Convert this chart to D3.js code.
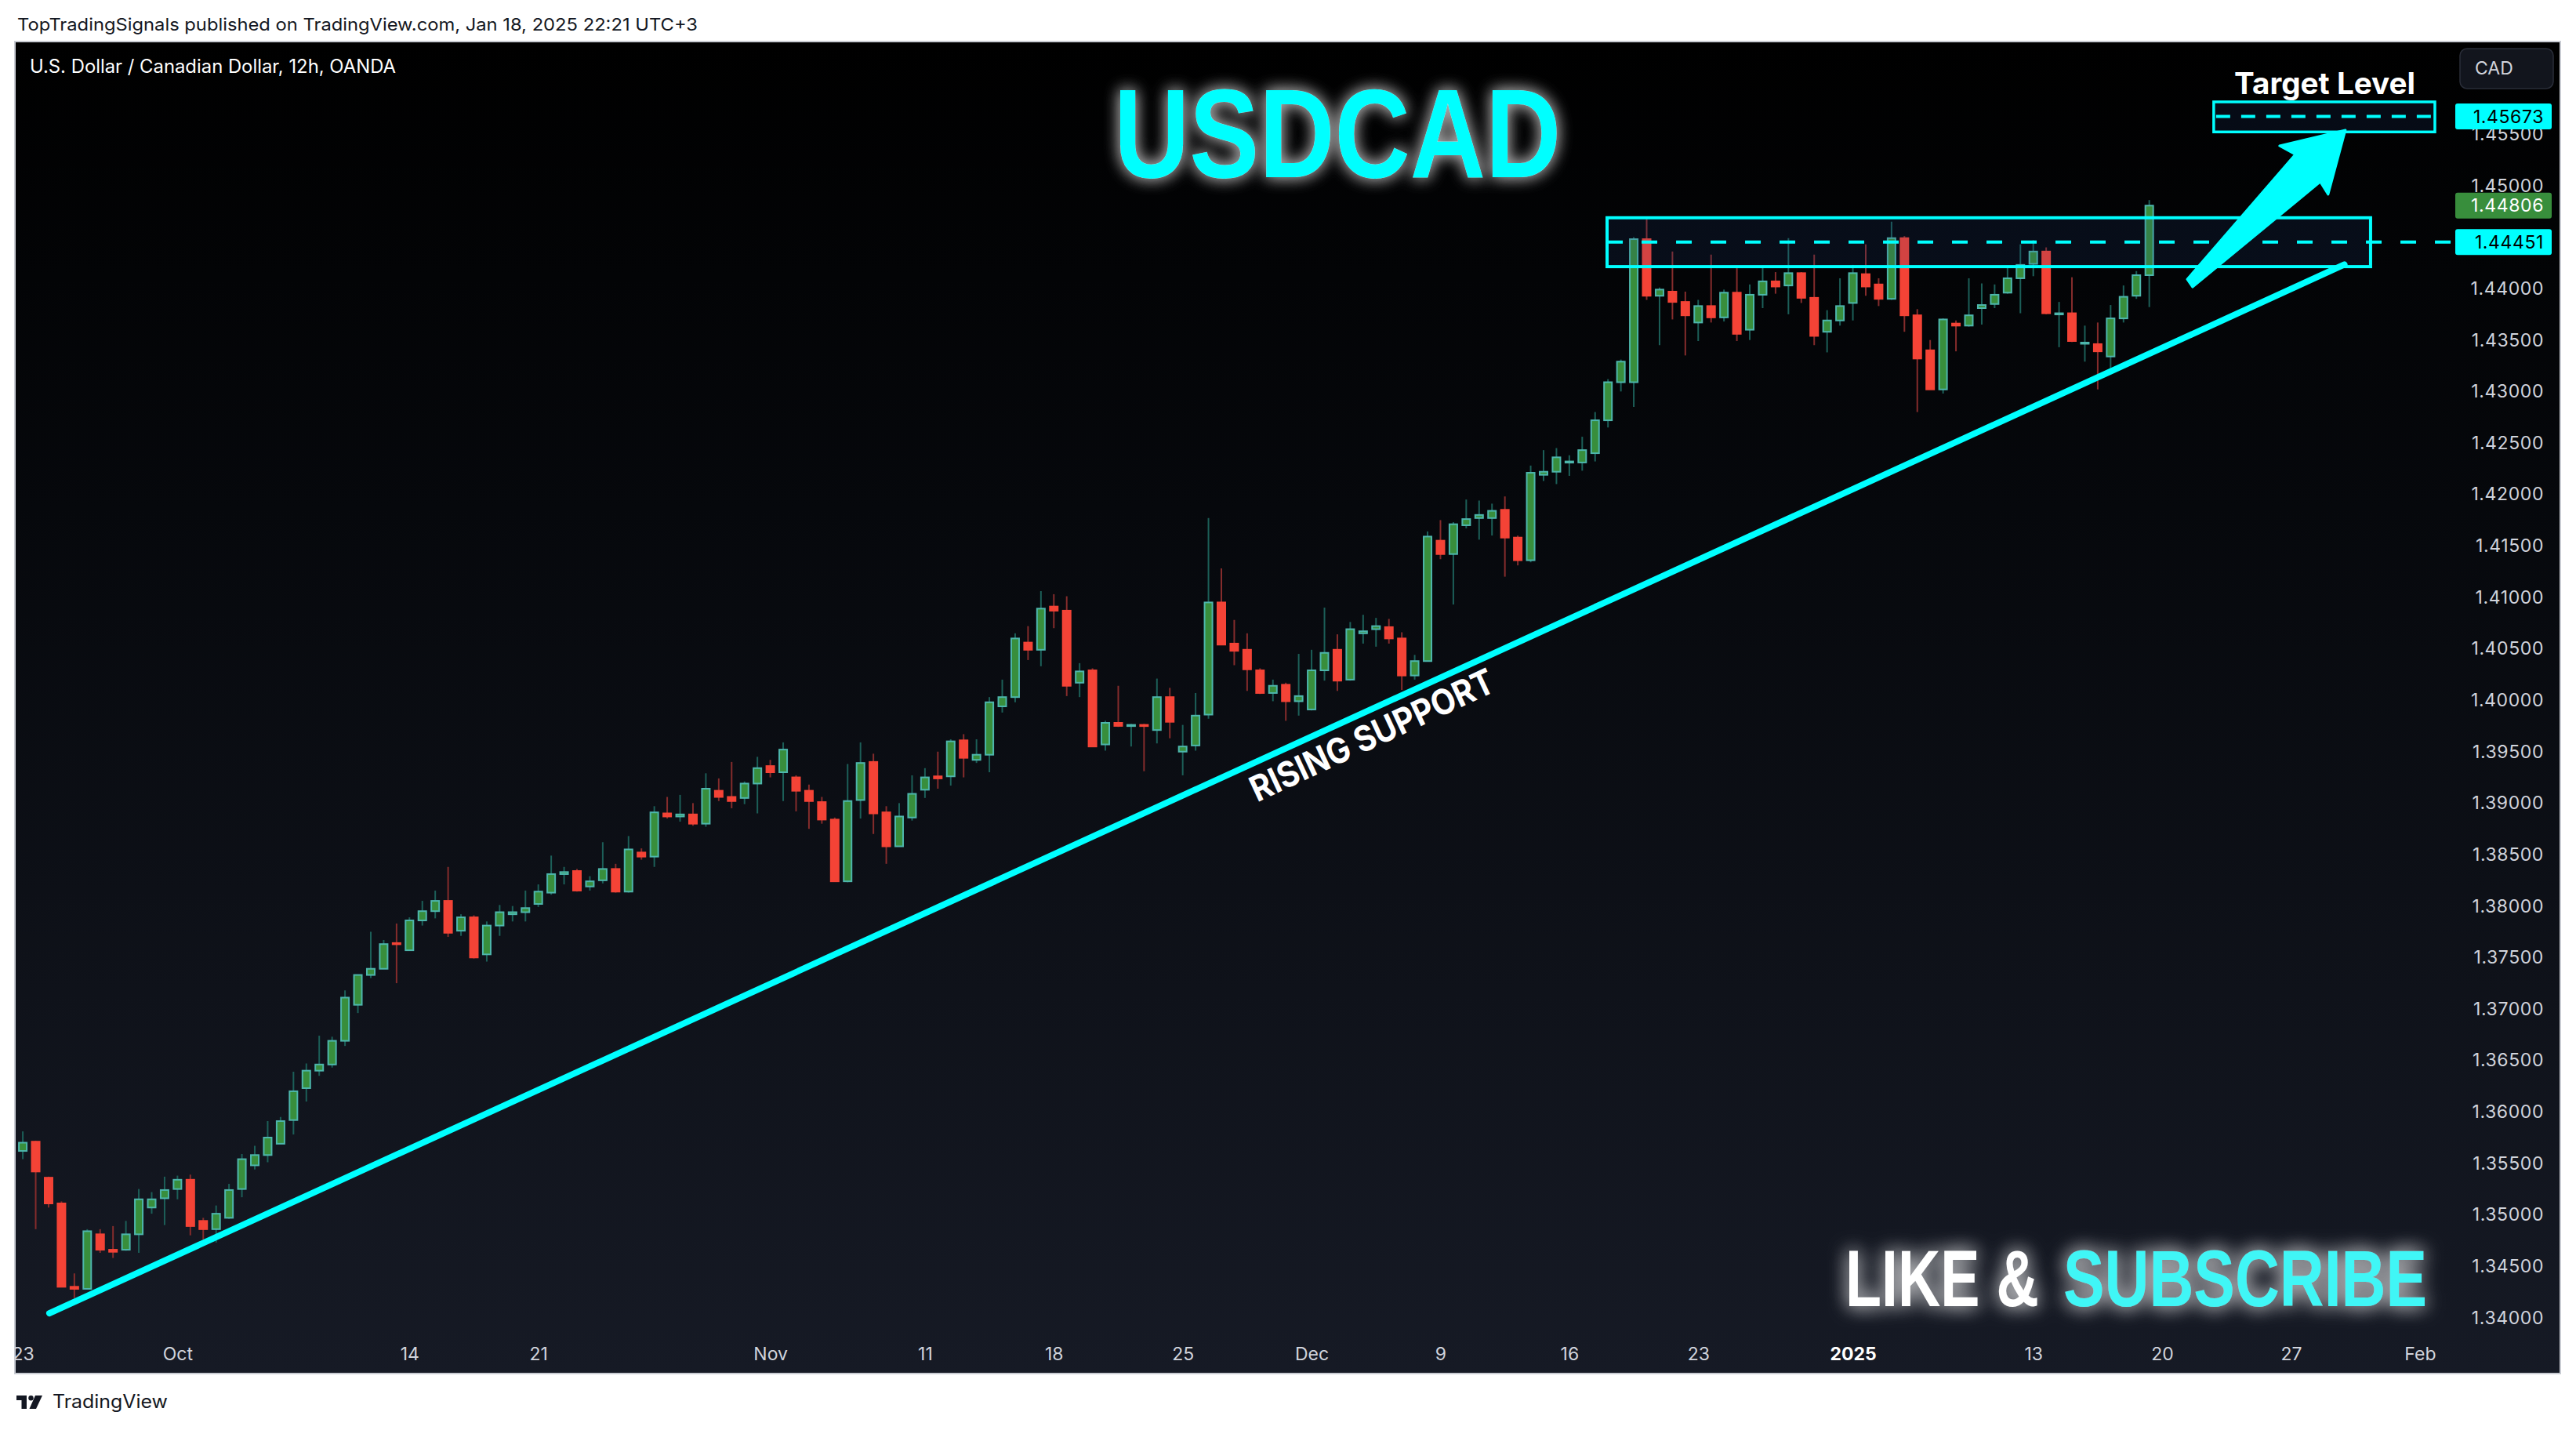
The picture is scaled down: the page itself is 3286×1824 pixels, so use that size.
<!DOCTYPE html>
<html><head><meta charset="utf-8">
<script src="https://cdn.jsdelivr.net/npm/d3@7"></script>
<style>html,body{margin:0;padding:0;background:#fff;overflow:hidden}svg{display:block}</style>
</head><body>
<svg id="c" width="3286" height="1824"></svg>
<script>
// ---- DATA (12h candles, bar index 0 = Sep 23 2024) ----
const opens = [
1.3562,1.3571,1.3536,1.3511,1.3430,1.3428,1.3481,1.3466,1.3466,1.3481,
1.3507,1.3516,1.3525,1.3534,1.3494,1.3486,1.3497,1.3525,1.3548,1.3558,
1.3569,1.3592,1.3623,1.3640,1.3646,1.3669,1.3704,1.3733,1.3739,1.3764,
1.3757,1.3786,1.3795,1.3805,1.3776,1.3789,1.3753,1.3781,1.3792,1.3794,
1.3802,1.3813,1.3831,1.3834,1.3819,1.3825,1.3836,1.3814,1.3852,1.3848,
1.3890,1.3887,1.3889,1.3880,1.3912,1.3906,1.3905,1.3919,1.3936,1.3930,
1.3925,1.3912,1.3901,1.3884,1.3824,1.3903,1.3940,1.3891,1.3858,1.3886,
1.3913,1.3926,1.3926,1.3961,1.3942,1.3947,1.3994,1.4003,1.4056,1.4049,
1.4091,1.4087,1.4017,1.4029,1.3957,1.3978,1.3975,1.3976,1.3971,1.4003,
1.3950,1.3956,1.3986,1.4095,1.4055,1.4049,1.4029,1.4007,1.4015,1.3999,
1.3991,1.4029,1.4049,1.4020,1.4065,1.4069,1.4071,1.4060,1.4024,1.4038,
1.4155,1.4142,1.4170,1.4177,1.4177,1.4185,1.4158,1.4136,1.4219,1.4222,
1.4231,1.4231,1.4240,1.4272,1.4309,1.4309,1.4448,1.4393,1.4397,1.4387,
1.4367,1.4383,1.4372,1.4396,1.4360,1.4394,1.4407,1.4403,1.4415,1.4391,
1.4358,1.4369,1.4386,1.4414,1.4404,1.4390,1.4449,1.4374,1.4340,1.4302,
1.4366,1.4364,1.4381,1.4385,1.4396,1.4410,1.4424,1.4436,1.4375,1.4376,
1.4347,1.4346,1.4334,1.4371,1.4393,1.4413];
const highs = [
1.3581,1.3572,1.3537,1.3513,1.3443,1.3486,1.3486,1.3489,1.3494,1.3525,
1.3522,1.3537,1.3538,1.3539,1.3497,1.3509,1.3530,1.3559,1.3567,1.3591,
1.3595,1.3639,1.3647,1.3674,1.3673,1.3718,1.3733,1.3775,1.3767,1.3783,
1.3789,1.3805,1.3815,1.3838,1.3792,1.3791,1.3785,1.3801,1.3800,1.3815,
1.3821,1.3849,1.3838,1.3836,1.3829,1.3862,1.3841,1.3868,1.3856,1.3897,
1.3906,1.3908,1.3900,1.3929,1.3924,1.3940,1.3921,1.3945,1.3942,1.3959,
1.3927,1.3918,1.3906,1.3886,1.3938,1.3959,1.3948,1.3897,1.3900,1.3927,
1.3934,1.3950,1.3962,1.3967,1.3962,1.4003,1.4020,1.4065,1.4072,1.4106,
1.4103,1.4101,1.4036,1.4031,1.3980,1.4014,1.3977,1.3977,1.4021,1.4012,
1.3976,1.4007,1.4177,1.4128,1.4078,1.4065,1.4031,1.4020,1.4017,1.4045,
1.4049,1.4090,1.4064,1.4076,1.4083,1.4080,1.4079,1.4066,1.4044,1.4164,
1.4175,1.4173,1.4195,1.4194,1.4191,1.4198,1.4160,1.4228,1.4243,1.4245,
1.4238,1.4256,1.4280,1.4312,1.4331,1.4450,1.4468,1.4401,1.4436,1.4397,
1.4389,1.4433,1.4399,1.4420,1.4404,1.4420,1.4416,1.4449,1.4416,1.4433,
1.4379,1.4410,1.4423,1.4443,1.4410,1.4465,1.4451,1.4380,1.4350,1.4371,
1.4369,1.4410,1.4405,1.4404,1.4422,1.4443,1.4447,1.4440,1.4387,1.4411,
1.4364,1.4367,1.4384,1.4403,1.4417,1.4486];
const lows = [
1.3554,1.3486,1.3507,1.3430,1.3419,1.3428,1.3463,1.3458,1.3465,1.3463,
1.3501,1.3490,1.3515,1.3480,1.3476,1.3473,1.3496,1.3517,1.3544,1.3551,
1.3569,1.3578,1.3610,1.3635,1.3643,1.3664,1.3696,1.3730,1.3739,1.3725,
1.3757,1.3781,1.3788,1.3770,1.3771,1.3749,1.3746,1.3771,1.3785,1.3785,
1.3799,1.3811,1.3821,1.3814,1.3815,1.3822,1.3813,1.3813,1.3845,1.3838,
1.3885,1.3882,1.3878,1.3877,1.3902,1.3895,1.3899,1.3890,1.3925,1.3902,
1.3892,1.3875,1.3880,1.3824,1.3823,1.3885,1.3870,1.3841,1.3858,1.3883,
1.3905,1.3914,1.3917,1.3925,1.3939,1.3930,1.3988,1.3998,1.4039,1.4033,
1.4070,1.4004,1.4003,1.3955,1.3951,1.3974,1.3955,1.3931,1.3958,1.3963,
1.3927,1.3951,1.3982,1.4054,1.4034,1.4009,1.4006,1.3999,1.3980,1.3985,
1.3990,1.4019,1.4009,1.4019,1.4055,1.4052,1.4055,1.4010,1.4020,1.4038,
1.4137,1.4093,1.4167,1.4156,1.4160,1.4120,1.4131,1.4134,1.4213,1.4210,
1.4218,1.4223,1.4232,1.4265,1.4300,1.4285,1.4389,1.4345,1.4370,1.4335,
1.4349,1.4367,1.4368,1.4349,1.4350,1.4381,1.4395,1.4375,1.4386,1.4345,
1.4338,1.4364,1.4369,1.4393,1.4383,1.4389,1.4358,1.4280,1.4302,1.4298,
1.4339,1.4363,1.4365,1.4381,1.4395,1.4376,1.4412,1.4375,1.4343,1.4348,
1.4329,1.4302,1.4322,1.4367,1.4390,1.4382];
const closes = [
1.3570,1.3542,1.3511,1.3430,1.3428,1.3484,1.3466,1.3464,1.3481,1.3515,
1.3515,1.3524,1.3534,1.3489,1.3486,1.3501,1.3524,1.3554,1.3558,1.3575,
1.3591,1.3620,1.3640,1.3646,1.3669,1.3711,1.3733,1.3739,1.3763,1.3763,
1.3786,1.3795,1.3805,1.3774,1.3789,1.3750,1.3781,1.3794,1.3794,1.3798,
1.3814,1.3831,1.3833,1.3815,1.3824,1.3836,1.3814,1.3855,1.3848,1.3891,
1.3887,1.3889,1.3880,1.3914,1.3906,1.3902,1.3919,1.3934,1.3930,1.3952,
1.3912,1.3902,1.3884,1.3824,1.3902,1.3939,1.3890,1.3858,1.3887,1.3909,
1.3925,1.3924,1.3960,1.3944,1.3947,1.3998,1.4003,1.4060,1.4049,1.4089,
1.4087,1.4014,1.4028,1.3955,1.3978,1.3975,1.3976,1.3975,1.4003,1.3979,
1.3955,1.3985,1.4095,1.4054,1.4048,1.4030,1.4007,1.4014,1.3999,1.4004,
1.4029,1.4046,1.4019,1.4069,1.4067,1.4072,1.4060,1.4024,1.4038,1.4159,
1.4142,1.4171,1.4176,1.4180,1.4184,1.4158,1.4136,1.4221,1.4222,1.4236,
1.4232,1.4243,1.4272,1.4309,1.4329,1.4448,1.4393,1.4399,1.4387,1.4374,
1.4383,1.4372,1.4396,1.4356,1.4394,1.4407,1.4402,1.4415,1.4391,1.4354,
1.4369,1.4383,1.4415,1.4402,1.4390,1.4449,1.4374,1.4332,1.4302,1.4370,
1.4364,1.4374,1.4384,1.4394,1.4410,1.4423,1.4436,1.4376,1.4376,1.4349,
1.43475,1.4339,1.4371,1.4392,1.4413,1.44806];

// 1.44500 is hidden behind the 1.44451 tag in the reference, so it is not listed
const priceTicks = [1.340,1.345,1.350,1.355,1.360,1.365,1.370,1.375,1.380,1.385,1.390,1.395,
  1.400,1.405,1.410,1.415,1.420,1.425,1.430,1.435,1.440,1.450,1.455];
const dateTickIdx    = [0, 12, 30, 40, 58, 70, 80, 90, 100, 110, 120, 130, 142, 156, 166, 176, 186];
const dateTickLabels = ["23","Oct","14","21","Nov","11","18","25","Dec","9","16","23","2025","13","20","27","Feb"];

// drawings, in (bar index, price)
const supportLine = [[2.06, 1.34042], [180.14, 1.44233]];
const resistanceZone = [122.93, 182.17, 1.44213, 1.44688];
const resistanceLevel = 1.44451;
const targetZone = [170.0, 187.16, 1.45522, 1.45814];
const targetLevel = 1.45673;
const lastClose = 1.44806;
const arrowPts = [[167.94,1.44091],[176.33,1.45303],[175.11,1.45387],[180.22,1.45540],[178.88,1.44915],[178.27,1.45037],[168.36,1.44015]];

// ---- LAYOUT ----
const svg = d3.select("#c");
const F = {x0:19, x1:3266, y0:53, y1:1752};
const plotR = 3130;
const x = d3.scaleLinear().domain([0,186]).range([29.1, 3086.9]);
const y = d3.scaleLinear().domain([1.34,1.45]).range([1680.7, 236.8]);

const defs = svg.append("defs");
const bg = defs.append("linearGradient").attr("id","bg").attr("gradientUnits","userSpaceOnUse")
  .attr("x1",0).attr("y1",F.y0).attr("x2",0).attr("y2",F.y1);
bg.append("stop").attr("offset",0).attr("stop-color","#000000");
bg.append("stop").attr("offset",0.35).attr("stop-color","#06080c");
bg.append("stop").attr("offset",1).attr("stop-color","#161a25");
defs.append("clipPath").attr("id","frame").append("rect").attr("x",F.x0).attr("y",F.y0).attr("width",F.x1-F.x0).attr("height",F.y1-F.y0);
defs.append("clipPath").attr("id","plot").append("rect").attr("x",F.x0).attr("y",F.y0).attr("width",plotR-F.x0).attr("height",F.y1-F.y0);
function glow(id, sd, op){
  const f = defs.append("filter").attr("id",id).attr("x","-20%").attr("y","-50%").attr("width","140%").attr("height","200%");
  f.append("feGaussianBlur").attr("in","SourceAlpha").attr("stdDeviation",sd).attr("result","b");
  f.append("feFlood").attr("flood-color","#ffffff").attr("flood-opacity",op);
  f.append("feComposite").attr("in2","b").attr("operator","in").attr("result","g");
  const m = f.append("feMerge");
  m.append("feMergeNode").attr("in","g");
  m.append("feMergeNode").attr("in","g");
  m.append("feMergeNode").attr("in","SourceGraphic");
}
glow("glowT", 10, 0.5);
glow("glowL", 12, 0.58);

// page header
svg.append("text").attr("x",22).attr("y",39).attr("font-family","Inter, 'Liberation Sans', sans-serif")
  .attr("font-size",22).attr("fill","#131722").attr("textLength",868).attr("lengthAdjust","spacingAndGlyphs")
  .text("TopTradingSignals published on TradingView.com, Jan 18, 2025 22:21 UTC+3");

// frame
svg.append("rect").attr("x",F.x0).attr("y",F.y0).attr("width",F.x1-F.x0).attr("height",F.y1-F.y0)
  .attr("fill","url(#bg)").attr("stroke","#c9ccd3").attr("stroke-width",2);

const chart = svg.append("g").attr("clip-path","url(#frame)");
const plot = chart.append("g").attr("clip-path","url(#plot)");

// candles
const candles = d3.range(opens.length).map(i => ({i, o:opens[i], h:highs[i], l:lows[i], c:closes[i], up: closes[i] >= opens[i]}));
const cg = plot.append("g");
cg.selectAll("line.w").data(candles).join("line")
  .attr("x1", d=>x(d.i)).attr("x2", d=>x(d.i))
  .attr("y1", d=>y(d.h)).attr("y2", d=>y(d.l))
  .attr("stroke", d=>d.up ? "#1c5f58" : "#852c2c").attr("stroke-width",2);
cg.selectAll("rect.b").data(candles).join("rect")
  .attr("x", d=>x(d.i)-5).attr("width",10)
  .attr("y", d=>Math.min(y(d.o),y(d.c)))
  .attr("height", d=>Math.max(1.5, Math.abs(y(d.o)-y(d.c))))
  .attr("fill", d=>d.up ? "#388e3c" : "#f44336")
  .attr("stroke", d=>d.up ? "#4db6ac" : "#f44336").attr("stroke-width",2);

// zones
function zone(z, sw){
  plot.append("rect").attr("x",x(z[0])).attr("y",y(z[3])).attr("width",x(z[1])-x(z[0])).attr("height",y(z[2])-y(z[3]))
    .attr("fill","rgba(40,70,130,0.16)").attr("stroke","#00ffff").attr("stroke-width",sw);
}
zone(resistanceZone, 4);
plot.append("line").attr("x1",x(resistanceZone[0])).attr("x2",plotR).attr("y1",y(resistanceLevel)).attr("y2",y(resistanceLevel))
  .attr("stroke","#00ffff").attr("stroke-width",4).attr("stroke-dasharray","20 24");
zone(targetZone, 3.5);
plot.append("line").attr("x1",x(targetZone[0])+3).attr("x2",x(targetZone[1])+2).attr("y1",y(targetLevel)).attr("y2",y(targetLevel))
  .attr("stroke","#00ffff").attr("stroke-width",4).attr("stroke-dasharray","18 14");

// support line
plot.append("line").attr("x1",x(supportLine[0][0])).attr("y1",y(supportLine[0][1]))
  .attr("x2",x(supportLine[1][0])).attr("y2",y(supportLine[1][1]))
  .attr("stroke","#00ffff").attr("stroke-width",8).attr("stroke-linecap","round");

// arrow
plot.append("path").attr("d", d3.line().x(d=>x(d[0])).y(d=>y(d[1]))(arrowPts)+"Z")
  .attr("fill","#00ffff").attr("stroke","#00ffff").attr("stroke-width",3).attr("stroke-linejoin","round");

// rising support label
plot.append("text").attr("transform","translate(1757,952) rotate(-25)")
  .attr("text-anchor","middle").attr("font-family","Inter, 'Liberation Sans', sans-serif").attr("font-weight",700)
  .attr("font-size",45).attr("fill","#ffffff").attr("textLength",338).attr("lengthAdjust","spacingAndGlyphs")
  .text("RISING SUPPORT");

// Target Level
plot.append("text").attr("x",2850).attr("y",120).attr("font-family","Inter, 'Liberation Sans', sans-serif")
  .attr("font-weight",700).attr("font-size",38).attr("fill","#ffffff").attr("textLength",231).attr("lengthAdjust","spacingAndGlyphs")
  .text("Target Level");

// title (narrow glyphs: smaller font stretched vertically)
chart.append("g").attr("filter","url(#glowT)")
  .append("text").attr("transform","translate(1421,226) scale(1,1.205)")
  .attr("font-family","'Liberation Sans', Arial, sans-serif").attr("font-weight",700).attr("font-size",133.3)
  .attr("fill","#00ffff").text("USDCAD");

// like & subscribe
const ls = chart.append("g").attr("filter","url(#glowL)");
ls.append("text").attr("transform","translate(2354,1666) scale(1,1.354)")
  .attr("font-family","'Liberation Sans', Arial, sans-serif").attr("font-weight",700).attr("font-size",75.3)
  .attr("fill","#ffffff").text("LIKE &");
ls.append("text").attr("transform","translate(2632,1666) scale(1,1.295)")
  .attr("font-family","'Liberation Sans', Arial, sans-serif").attr("font-weight",700).attr("font-size",78.8)
  .attr("fill","#3ff6f6").text("SUBSCRIBE");

// symbol legend
chart.append("text").attr("x",38).attr("y",93).attr("font-family","Inter, 'Liberation Sans', sans-serif")
  .attr("font-size",24).attr("fill","#ffffff").attr("textLength",467).attr("lengthAdjust","spacingAndGlyphs")
  .text("U.S. Dollar / Canadian Dollar, 12h, OANDA");

// price axis
const yAxis = d3.axisRight(y).tickValues(priceTicks).tickFormat(d3.format(".5f")).tickSize(0).tickPadding(0);
const ya = chart.append("g").attr("transform","translate(3245,0)").call(yAxis);
ya.select(".domain").remove();
ya.selectAll("text").attr("text-anchor","end").attr("x",0).attr("fill","#d1d4dc")
  .attr("font-family","Inter, 'Liberation Sans', sans-serif").attr("font-size",23).attr("letter-spacing",0.6);

// time axis
const xAxis = d3.axisBottom(x).tickValues(dateTickIdx).tickFormat((d,k)=>dateTickLabels[k]).tickSize(0).tickPadding(0);
const xa = chart.append("g").attr("transform","translate(0,1719)").call(xAxis);
xa.select(".domain").remove();
xa.selectAll("text").attr("font-family","Inter, 'Liberation Sans', sans-serif").attr("font-size",23)
  .attr("font-weight",(d,k)=>dateTickLabels[k]==="2025"?700:400)
  .attr("fill",(d,k)=>dateTickLabels[k]==="2025"?"#ffffff":"#d1d4dc");

// price labels
function priceTag(p, fill, txt){
  const g = chart.append("g");
  g.append("rect").attr("x",3132).attr("y",y(p)-16.5).attr("width",123).attr("height",33).attr("rx",3).attr("fill",fill);
  g.append("text").attr("x",3245).attr("y",y(p)).attr("dy","0.35em").attr("text-anchor","end")
    .attr("font-family","Inter, 'Liberation Sans', sans-serif").attr("font-size",23).attr("letter-spacing",0.6)
    .attr("fill",txt).text(d3.format(".5f")(p));
}
priceTag(targetLevel, "#00ffff", "#000000");
priceTag(lastClose, "#388e3c", "#ffffff");
priceTag(resistanceLevel, "#00ffff", "#000000");

// currency button
chart.append("rect").attr("x",3138).attr("y",62).attr("width",119).attr("height",51).attr("rx",9)
  .attr("fill","#12151d").attr("stroke","#2a2e39").attr("stroke-width",1.5);
chart.append("text").attr("x",3157).attr("y",95).attr("font-family","Inter, 'Liberation Sans', sans-serif")
  .attr("font-size",23).attr("fill","#d1d4dc").text("CAD");

// TradingView footer
const lg = svg.append("g").attr("transform","translate(21,1780)").attr("fill","#131722");
lg.append("path").attr("d","M0,0 H13 V17 H6.5 V6 H0 Z");
lg.append("circle").attr("cx",18.5).attr("cy",3.2).attr("r",3.2);
lg.append("path").attr("d","M24,0 H33 L25,17 H16.5 Z");
svg.append("text").attr("x",67).attr("y",1796).attr("font-family","Inter, 'Liberation Sans', sans-serif")
  .attr("font-size",24).attr("fill","#131722").attr("textLength",147).attr("lengthAdjust","spacingAndGlyphs").text("TradingView");
</script>
</body></html>
